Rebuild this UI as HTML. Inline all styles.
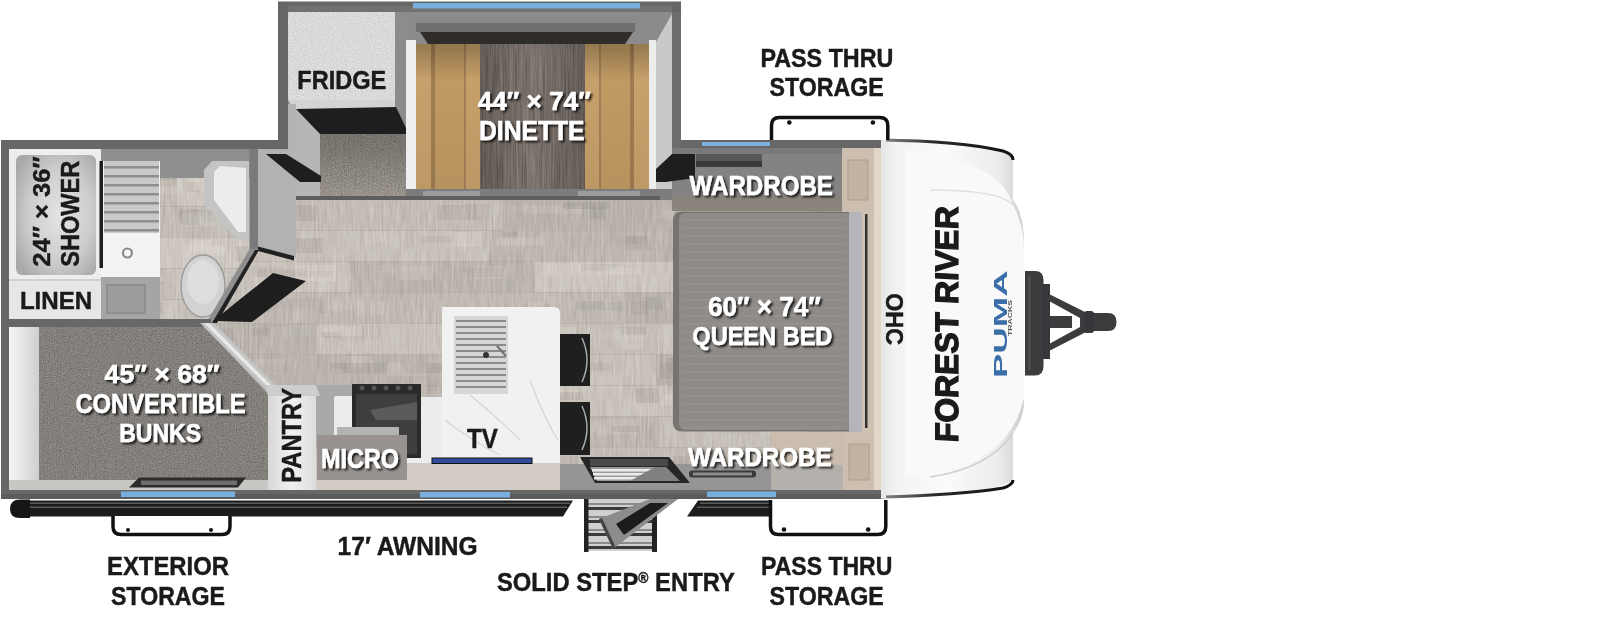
<!DOCTYPE html>
<html><head><meta charset="utf-8"><style>
html,body{margin:0;padding:0;background:#fff;width:1600px;height:617px;overflow:hidden}
svg{display:block}
text{font-family:"Liberation Sans",sans-serif;font-weight:bold}
.w text{fill:#fff;stroke:#fff;stroke-width:0.5}
.k text{fill:#1a1a1a;stroke:#1a1a1a;stroke-width:0.45}
</style></head><body>
<svg width="1600" height="617" viewBox="0 0 1600 617">
<defs>
<filter id="sh" x="-10%" y="-30%" width="130%" height="170%">
<feGaussianBlur in="SourceAlpha" stdDeviation="1.3"/><feOffset dx="1.6" dy="2" result="b"/>
<feFlood flood-color="#000" flood-opacity="0.8"/><feComposite in2="b" operator="in"/>
<feMerge><feMergeNode/><feMergeNode in="SourceGraphic"/></feMerge>
</filter>
<filter id="noise" x="0" y="0" width="100%" height="100%">
<feTurbulence type="fractalNoise" baseFrequency="0.85" numOctaves="2" seed="3" result="n"/>
<feColorMatrix in="n" type="matrix" values="0.33 0.33 0.33 0 0  0.33 0.33 0.33 0 0  0.33 0.33 0.33 0 0  0 0 0 0 1" result="g"/>
<feComposite in="g" in2="SourceGraphic" operator="in" result="m"/>
<feBlend in="m" in2="SourceGraphic" mode="overlay"/>
</filter>
<filter id="grain" x="0" y="0" width="100%" height="100%">
<feTurbulence type="fractalNoise" baseFrequency="0.6 0.02" numOctaves="2" seed="5" result="n"/>
<feColorMatrix in="n" type="matrix" values="0.33 0.33 0.33 0 0  0.33 0.33 0.33 0 0  0.33 0.33 0.33 0 0  0 0 0 0 1" result="g"/>
<feComposite in="g" in2="SourceGraphic" operator="in" result="m"/>
<feBlend in="m" in2="SourceGraphic" mode="overlay"/>
</filter>
<filter id="fgrain" x="0" y="0" width="100%" height="100%">
<feTurbulence type="fractalNoise" baseFrequency="0.5 0.04" numOctaves="2" seed="11" result="n"/>
<feColorMatrix in="n" type="matrix" values="0.13 0.13 0.13 0 0.305  0.13 0.13 0.13 0 0.305  0.13 0.13 0.13 0 0.305  0 0 0 0 1" result="g"/>
<feComposite in="g" in2="SourceGraphic" operator="in" result="m"/>
<feBlend in="m" in2="SourceGraphic" mode="overlay"/>
</filter>
<linearGradient id="carpg" x1="0" y1="0" x2="0" y2="1">
<stop offset="0" stop-color="#6f6964"/><stop offset="0.5" stop-color="#7d7772"/><stop offset="1" stop-color="#9a948e"/>
</linearGradient>
<linearGradient id="capg" x1="0" y1="0" x2="1" y2="0">
<stop offset="0" stop-color="#e6e6e6"/><stop offset="0.1" stop-color="#f2f2f2"/><stop offset="0.45" stop-color="#fbfbfb"/><stop offset="0.82" stop-color="#ececec"/><stop offset="1" stop-color="#cccccc"/>
</linearGradient>
<linearGradient id="capline" x1="0" y1="0" x2="1" y2="0">
<stop offset="0" stop-color="#8a8a8a"/><stop offset="0.4" stop-color="#2a2a2a"/><stop offset="1" stop-color="#111"/>
</linearGradient>
<radialGradient id="showg" cx="0.55" cy="0.5" r="0.65">
<stop offset="0" stop-color="#e4e4e4"/><stop offset="0.6" stop-color="#cdcdcd"/><stop offset="1" stop-color="#a9a9a9"/>
</radialGradient>
<linearGradient id="benchg" x1="0" y1="0" x2="0" y2="1">
<stop offset="0" stop-color="#000" stop-opacity="0.25"/><stop offset="0.25" stop-color="#000" stop-opacity="0"/><stop offset="1" stop-color="#000" stop-opacity="0.05"/>
</linearGradient>
<linearGradient id="tableg" x1="0" y1="0" x2="1" y2="0">
<stop offset="0" stop-color="#635c57"/><stop offset="0.5" stop-color="#7c736d"/><stop offset="1" stop-color="#635c57"/>
</linearGradient>
<linearGradient id="stripg" x1="0" y1="0" x2="1" y2="0">
<stop offset="0" stop-color="#f6f6f6"/><stop offset="1" stop-color="#cfcfcf"/>
</linearGradient>
<linearGradient id="pantg" x1="0" y1="0" x2="1" y2="0">
<stop offset="0" stop-color="#d8d8d8"/><stop offset="0.5" stop-color="#f1f1f1"/><stop offset="1" stop-color="#dcdcdc"/>
</linearGradient>
</defs>
<!-- ===== slide-out box ===== -->
<rect x="278" y="1.5" width="403" height="160" fill="#666"/>
<rect x="288" y="6" width="384" height="6" fill="#717171"/>
<rect x="288" y="12" width="384" height="189" fill="#8b8b8b"/>
<rect x="413" y="3" width="227" height="5.5" fill="#78afdf"/>

<!-- ===== main body ===== -->
<rect x="1" y="140" width="880" height="359" fill="#676767"/>
<rect x="9" y="149" width="872" height="341" fill="#c6c0b9"/>
<rect x="288" y="140" width="384" height="61" fill="#8b8b8b"/>
<rect x="702" y="142" width="68" height="4" fill="#78afdf"/>
<rect x="1" y="494" width="880" height="5" fill="#5c5c5c"/>
<rect x="121" y="491.5" width="114" height="5.5" fill="#78afdf"/>
<rect x="420" y="492" width="90" height="5.5" fill="#78afdf"/>
<rect x="707" y="491.5" width="69" height="5.5" fill="#78afdf"/>

<!-- floor planks -->
<g filter="url(#fgrain)">
<rect x="150" y="199" width="137" height="31" fill="rgb(200, 194, 187)"/>
<rect x="197" y="208" width="23" height="10" fill="rgb(187, 181, 174)" opacity="0.45"/>
<rect x="179" y="207" width="50" height="16" fill="rgb(215, 209, 202)" opacity="0.45"/>
<rect x="179" y="201" width="24" height="16" fill="rgb(216, 210, 203)" opacity="0.45"/>
<rect x="170" y="201" width="19" height="10" fill="rgb(208, 202, 195)" opacity="0.45"/>
<rect x="226" y="208" width="45" height="8" fill="rgb(214, 208, 201)" opacity="0.45"/>
<rect x="150" y="199" width="137" height="1" fill="#b3aba1" opacity="0.6"/>
<rect x="287" y="199" width="216" height="31" fill="rgb(194, 188, 181)"/>
<rect x="296" y="205" width="21" height="16" fill="rgb(170, 164, 157)" opacity="0.45"/>
<rect x="447" y="206" width="42" height="14" fill="rgb(208, 202, 195)" opacity="0.45"/>
<rect x="436" y="205" width="41" height="15" fill="rgb(173, 167, 160)" opacity="0.45"/>
<rect x="465" y="204" width="25" height="16" fill="rgb(176, 170, 163)" opacity="0.45"/>
<rect x="359" y="208" width="32" height="7" fill="rgb(203, 197, 190)" opacity="0.45"/>
<rect x="287" y="199" width="216" height="1" fill="#b3aba1" opacity="0.6"/>
<rect x="503" y="199" width="182" height="31" fill="rgb(185, 179, 172)"/>
<rect x="541" y="207" width="41" height="7" fill="rgb(197, 191, 184)" opacity="0.45"/>
<rect x="657" y="209" width="17" height="10" fill="rgb(199, 193, 186)" opacity="0.45"/>
<rect x="563" y="202" width="47" height="7" fill="rgb(158, 152, 145)" opacity="0.45"/>
<rect x="511" y="205" width="49" height="8" fill="rgb(199, 193, 186)" opacity="0.45"/>
<rect x="589" y="207" width="17" height="12" fill="rgb(167, 161, 154)" opacity="0.45"/>
<rect x="503" y="199" width="182" height="1" fill="#b3aba1" opacity="0.6"/>
<rect x="685" y="199" width="189" height="31" fill="rgb(199, 193, 186)"/>
<rect x="828" y="207" width="39" height="16" fill="rgb(215, 209, 202)" opacity="0.45"/>
<rect x="762" y="209" width="30" height="11" fill="rgb(211, 205, 198)" opacity="0.45"/>
<rect x="791" y="207" width="15" height="15" fill="rgb(189, 183, 176)" opacity="0.45"/>
<rect x="700" y="206" width="23" height="15" fill="rgb(214, 208, 201)" opacity="0.45"/>
<rect x="810" y="206" width="32" height="10" fill="rgb(171, 165, 158)" opacity="0.45"/>
<rect x="685" y="199" width="189" height="1" fill="#b3aba1" opacity="0.6"/>
<rect x="874" y="199" width="9" height="31" fill="rgb(197, 191, 184)"/>
<rect x="874" y="206" width="9" height="11" fill="rgb(174, 168, 161)" opacity="0.45"/>
<rect x="874" y="203" width="9" height="10" fill="rgb(181, 175, 168)" opacity="0.45"/>
<rect x="874" y="203" width="9" height="16" fill="rgb(208, 202, 195)" opacity="0.45"/>
<rect x="874" y="204" width="9" height="13" fill="rgb(210, 204, 197)" opacity="0.45"/>
<rect x="874" y="205" width="9" height="9" fill="rgb(208, 202, 195)" opacity="0.45"/>
<rect x="874" y="199" width="9" height="1" fill="#b3aba1" opacity="0.6"/>
<rect x="150" y="230" width="132" height="31" fill="rgb(199, 193, 186)"/>
<rect x="190" y="237" width="27" height="16" fill="rgb(209, 203, 196)" opacity="0.45"/>
<rect x="253" y="236" width="20" height="14" fill="rgb(209, 203, 196)" opacity="0.45"/>
<rect x="209" y="238" width="32" height="15" fill="rgb(213, 207, 200)" opacity="0.45"/>
<rect x="154" y="232" width="41" height="13" fill="rgb(184, 178, 171)" opacity="0.45"/>
<rect x="205" y="239" width="47" height="16" fill="rgb(188, 182, 175)" opacity="0.45"/>
<rect x="150" y="230" width="132" height="1" fill="#b3aba1" opacity="0.6"/>
<rect x="282" y="230" width="207" height="31" fill="rgb(199, 193, 186)"/>
<rect x="421" y="236" width="33" height="7" fill="rgb(181, 175, 168)" opacity="0.45"/>
<rect x="293" y="238" width="30" height="15" fill="rgb(172, 166, 159)" opacity="0.45"/>
<rect x="285" y="240" width="18" height="10" fill="rgb(186, 180, 173)" opacity="0.45"/>
<rect x="451" y="232" width="30" height="15" fill="rgb(215, 209, 202)" opacity="0.45"/>
<rect x="369" y="232" width="22" height="11" fill="rgb(211, 205, 198)" opacity="0.45"/>
<rect x="282" y="230" width="207" height="1" fill="#b3aba1" opacity="0.6"/>
<rect x="489" y="230" width="174" height="31" fill="rgb(189, 183, 176)"/>
<rect x="625" y="236" width="22" height="8" fill="rgb(164, 158, 151)" opacity="0.45"/>
<rect x="613" y="236" width="15" height="9" fill="rgb(179, 173, 166)" opacity="0.45"/>
<rect x="623" y="239" width="32" height="11" fill="rgb(177, 171, 164)" opacity="0.45"/>
<rect x="503" y="232" width="15" height="7" fill="rgb(165, 159, 152)" opacity="0.45"/>
<rect x="497" y="237" width="45" height="8" fill="rgb(205, 199, 192)" opacity="0.45"/>
<rect x="489" y="230" width="174" height="1" fill="#b3aba1" opacity="0.6"/>
<rect x="663" y="230" width="180" height="31" fill="rgb(185, 179, 172)"/>
<rect x="761" y="236" width="37" height="9" fill="rgb(197, 191, 184)" opacity="0.45"/>
<rect x="772" y="238" width="36" height="7" fill="rgb(160, 154, 147)" opacity="0.45"/>
<rect x="673" y="232" width="26" height="15" fill="rgb(200, 194, 187)" opacity="0.45"/>
<rect x="676" y="238" width="42" height="12" fill="rgb(200, 194, 187)" opacity="0.45"/>
<rect x="667" y="233" width="44" height="12" fill="rgb(196, 190, 183)" opacity="0.45"/>
<rect x="663" y="230" width="180" height="1" fill="#b3aba1" opacity="0.6"/>
<rect x="843" y="230" width="40" height="31" fill="rgb(196, 190, 183)"/>
<rect x="843" y="233" width="23" height="13" fill="rgb(209, 203, 196)" opacity="0.45"/>
<rect x="859" y="240" width="22" height="7" fill="rgb(205, 199, 192)" opacity="0.45"/>
<rect x="858" y="232" width="15" height="14" fill="rgb(207, 201, 194)" opacity="0.45"/>
<rect x="861" y="232" width="20" height="11" fill="rgb(171, 165, 158)" opacity="0.45"/>
<rect x="843" y="236" width="22" height="7" fill="rgb(211, 205, 198)" opacity="0.45"/>
<rect x="843" y="230" width="40" height="1" fill="#b3aba1" opacity="0.6"/>
<rect x="150" y="261" width="200" height="31" fill="rgb(201, 195, 188)"/>
<rect x="285" y="271" width="47" height="6" fill="rgb(180, 174, 167)" opacity="0.45"/>
<rect x="233" y="266" width="50" height="8" fill="rgb(191, 185, 178)" opacity="0.45"/>
<rect x="266" y="269" width="30" height="11" fill="rgb(213, 207, 200)" opacity="0.45"/>
<rect x="257" y="269" width="50" height="8" fill="rgb(175, 169, 162)" opacity="0.45"/>
<rect x="295" y="265" width="41" height="16" fill="rgb(217, 211, 204)" opacity="0.45"/>
<rect x="150" y="261" width="200" height="1" fill="#b3aba1" opacity="0.6"/>
<rect x="350" y="261" width="185" height="31" fill="rgb(187, 181, 174)"/>
<rect x="374" y="265" width="25" height="8" fill="rgb(202, 196, 189)" opacity="0.45"/>
<rect x="400" y="266" width="32" height="14" fill="rgb(203, 197, 190)" opacity="0.45"/>
<rect x="455" y="267" width="33" height="6" fill="rgb(177, 171, 164)" opacity="0.45"/>
<rect x="472" y="268" width="32" height="9" fill="rgb(171, 165, 158)" opacity="0.45"/>
<rect x="473" y="266" width="35" height="13" fill="rgb(201, 195, 188)" opacity="0.45"/>
<rect x="350" y="261" width="185" height="1" fill="#b3aba1" opacity="0.6"/>
<rect x="535" y="261" width="197" height="31" fill="rgb(203, 197, 190)"/>
<rect x="542" y="263" width="50" height="13" fill="rgb(212, 206, 199)" opacity="0.45"/>
<rect x="595" y="266" width="29" height="9" fill="rgb(214, 208, 201)" opacity="0.45"/>
<rect x="570" y="265" width="31" height="6" fill="rgb(211, 205, 198)" opacity="0.45"/>
<rect x="581" y="264" width="35" height="7" fill="rgb(188, 182, 175)" opacity="0.45"/>
<rect x="609" y="268" width="31" height="6" fill="rgb(216, 210, 203)" opacity="0.45"/>
<rect x="535" y="261" width="197" height="1" fill="#b3aba1" opacity="0.6"/>
<rect x="732" y="261" width="151" height="31" fill="rgb(193, 187, 180)"/>
<rect x="787" y="266" width="36" height="16" fill="rgb(177, 171, 164)" opacity="0.45"/>
<rect x="782" y="264" width="46" height="10" fill="rgb(209, 203, 196)" opacity="0.45"/>
<rect x="842" y="264" width="19" height="14" fill="rgb(208, 202, 195)" opacity="0.45"/>
<rect x="818" y="267" width="38" height="7" fill="rgb(208, 202, 195)" opacity="0.45"/>
<rect x="818" y="270" width="36" height="14" fill="rgb(183, 177, 170)" opacity="0.45"/>
<rect x="732" y="261" width="151" height="1" fill="#b3aba1" opacity="0.6"/>
<rect x="150" y="292" width="73" height="31" fill="rgb(205, 199, 192)"/>
<rect x="186" y="299" width="33" height="16" fill="rgb(182, 176, 169)" opacity="0.45"/>
<rect x="153" y="299" width="44" height="16" fill="rgb(180, 174, 167)" opacity="0.45"/>
<rect x="169" y="298" width="41" height="8" fill="rgb(220, 214, 207)" opacity="0.45"/>
<rect x="156" y="299" width="19" height="7" fill="rgb(221, 215, 208)" opacity="0.45"/>
<rect x="167" y="294" width="32" height="13" fill="rgb(189, 183, 176)" opacity="0.45"/>
<rect x="150" y="292" width="73" height="1" fill="#b3aba1" opacity="0.6"/>
<rect x="223" y="292" width="192" height="31" fill="rgb(191, 185, 178)"/>
<rect x="354" y="301" width="30" height="14" fill="rgb(204, 198, 191)" opacity="0.45"/>
<rect x="313" y="298" width="19" height="15" fill="rgb(178, 172, 165)" opacity="0.45"/>
<rect x="251" y="297" width="21" height="15" fill="rgb(181, 175, 168)" opacity="0.45"/>
<rect x="323" y="297" width="41" height="14" fill="rgb(201, 195, 188)" opacity="0.45"/>
<rect x="266" y="298" width="48" height="11" fill="rgb(181, 175, 168)" opacity="0.45"/>
<rect x="223" y="292" width="192" height="1" fill="#b3aba1" opacity="0.6"/>
<rect x="415" y="292" width="210" height="31" fill="rgb(192, 186, 179)"/>
<rect x="528" y="302" width="16" height="15" fill="rgb(206, 200, 193)" opacity="0.45"/>
<rect x="577" y="301" width="34" height="6" fill="rgb(208, 202, 195)" opacity="0.45"/>
<rect x="577" y="301" width="27" height="8" fill="rgb(164, 158, 151)" opacity="0.45"/>
<rect x="575" y="302" width="48" height="9" fill="rgb(178, 172, 165)" opacity="0.45"/>
<rect x="543" y="296" width="17" height="8" fill="rgb(201, 195, 188)" opacity="0.45"/>
<rect x="415" y="292" width="210" height="1" fill="#b3aba1" opacity="0.6"/>
<rect x="625" y="292" width="189" height="31" fill="rgb(185, 179, 172)"/>
<rect x="631" y="301" width="18" height="14" fill="rgb(168, 162, 155)" opacity="0.45"/>
<rect x="711" y="296" width="16" height="7" fill="rgb(198, 192, 185)" opacity="0.45"/>
<rect x="645" y="297" width="17" height="12" fill="rgb(167, 161, 154)" opacity="0.45"/>
<rect x="749" y="300" width="29" height="7" fill="rgb(167, 161, 154)" opacity="0.45"/>
<rect x="666" y="295" width="27" height="14" fill="rgb(200, 194, 187)" opacity="0.45"/>
<rect x="625" y="292" width="189" height="1" fill="#b3aba1" opacity="0.6"/>
<rect x="814" y="292" width="69" height="31" fill="rgb(196, 190, 183)"/>
<rect x="855" y="301" width="28" height="13" fill="rgb(183, 177, 170)" opacity="0.45"/>
<rect x="828" y="298" width="40" height="11" fill="rgb(173, 167, 160)" opacity="0.45"/>
<rect x="842" y="297" width="38" height="6" fill="rgb(209, 203, 196)" opacity="0.45"/>
<rect x="830" y="302" width="28" height="9" fill="rgb(206, 200, 193)" opacity="0.45"/>
<rect x="827" y="302" width="25" height="8" fill="rgb(206, 200, 193)" opacity="0.45"/>
<rect x="814" y="292" width="69" height="1" fill="#b3aba1" opacity="0.6"/>
<rect x="150" y="323" width="167" height="31" fill="rgb(186, 180, 173)"/>
<rect x="263" y="325" width="25" height="12" fill="rgb(173, 167, 160)" opacity="0.45"/>
<rect x="190" y="328" width="43" height="12" fill="rgb(171, 165, 158)" opacity="0.45"/>
<rect x="251" y="328" width="17" height="7" fill="rgb(173, 167, 160)" opacity="0.45"/>
<rect x="271" y="326" width="39" height="11" fill="rgb(196, 190, 183)" opacity="0.45"/>
<rect x="163" y="329" width="22" height="13" fill="rgb(198, 192, 185)" opacity="0.45"/>
<rect x="150" y="323" width="167" height="1" fill="#b3aba1" opacity="0.6"/>
<rect x="317" y="323" width="175" height="31" fill="rgb(200, 194, 187)"/>
<rect x="324" y="326" width="32" height="6" fill="rgb(213, 207, 200)" opacity="0.45"/>
<rect x="339" y="325" width="42" height="16" fill="rgb(190, 184, 177)" opacity="0.45"/>
<rect x="321" y="332" width="20" height="6" fill="rgb(177, 171, 164)" opacity="0.45"/>
<rect x="447" y="330" width="27" height="13" fill="rgb(211, 205, 198)" opacity="0.45"/>
<rect x="325" y="326" width="37" height="10" fill="rgb(212, 206, 199)" opacity="0.45"/>
<rect x="317" y="323" width="175" height="1" fill="#b3aba1" opacity="0.6"/>
<rect x="492" y="323" width="171" height="31" fill="rgb(196, 190, 183)"/>
<rect x="621" y="333" width="22" height="16" fill="rgb(212, 206, 199)" opacity="0.45"/>
<rect x="536" y="327" width="40" height="11" fill="rgb(212, 206, 199)" opacity="0.45"/>
<rect x="604" y="330" width="41" height="10" fill="rgb(211, 205, 198)" opacity="0.45"/>
<rect x="621" y="327" width="25" height="8" fill="rgb(180, 174, 167)" opacity="0.45"/>
<rect x="611" y="328" width="16" height="15" fill="rgb(205, 199, 192)" opacity="0.45"/>
<rect x="492" y="323" width="171" height="1" fill="#b3aba1" opacity="0.6"/>
<rect x="663" y="323" width="213" height="31" fill="rgb(203, 197, 190)"/>
<rect x="819" y="330" width="18" height="11" fill="rgb(218, 212, 205)" opacity="0.45"/>
<rect x="681" y="330" width="15" height="15" fill="rgb(181, 175, 168)" opacity="0.45"/>
<rect x="691" y="328" width="34" height="6" fill="rgb(189, 183, 176)" opacity="0.45"/>
<rect x="828" y="328" width="24" height="10" fill="rgb(179, 173, 166)" opacity="0.45"/>
<rect x="719" y="333" width="28" height="15" fill="rgb(219, 213, 206)" opacity="0.45"/>
<rect x="663" y="323" width="213" height="1" fill="#b3aba1" opacity="0.6"/>
<rect x="876" y="323" width="7" height="31" fill="rgb(200, 194, 187)"/>
<rect x="876" y="326" width="7" height="15" fill="rgb(177, 171, 164)" opacity="0.45"/>
<rect x="876" y="326" width="7" height="13" fill="rgb(178, 172, 165)" opacity="0.45"/>
<rect x="876" y="331" width="7" height="15" fill="rgb(215, 209, 202)" opacity="0.45"/>
<rect x="876" y="328" width="7" height="7" fill="rgb(215, 209, 202)" opacity="0.45"/>
<rect x="876" y="330" width="7" height="11" fill="rgb(186, 180, 173)" opacity="0.45"/>
<rect x="876" y="323" width="7" height="1" fill="#b3aba1" opacity="0.6"/>
<rect x="150" y="354" width="142" height="31" fill="rgb(185, 179, 172)"/>
<rect x="237" y="364" width="50" height="9" fill="rgb(168, 162, 155)" opacity="0.45"/>
<rect x="194" y="362" width="30" height="13" fill="rgb(158, 152, 145)" opacity="0.45"/>
<rect x="182" y="359" width="20" height="9" fill="rgb(163, 157, 150)" opacity="0.45"/>
<rect x="241" y="359" width="44" height="15" fill="rgb(199, 193, 186)" opacity="0.45"/>
<rect x="211" y="360" width="41" height="6" fill="rgb(170, 164, 157)" opacity="0.45"/>
<rect x="150" y="354" width="142" height="1" fill="#b3aba1" opacity="0.6"/>
<rect x="292" y="354" width="171" height="31" fill="rgb(186, 180, 173)"/>
<rect x="330" y="363" width="16" height="6" fill="rgb(167, 161, 154)" opacity="0.45"/>
<rect x="345" y="356" width="27" height="11" fill="rgb(201, 195, 188)" opacity="0.45"/>
<rect x="342" y="363" width="44" height="10" fill="rgb(167, 161, 154)" opacity="0.45"/>
<rect x="405" y="363" width="41" height="10" fill="rgb(160, 154, 147)" opacity="0.45"/>
<rect x="387" y="363" width="39" height="13" fill="rgb(200, 194, 187)" opacity="0.45"/>
<rect x="292" y="354" width="171" height="1" fill="#b3aba1" opacity="0.6"/>
<rect x="463" y="354" width="193" height="31" fill="rgb(200, 194, 187)"/>
<rect x="555" y="363" width="29" height="11" fill="rgb(181, 175, 168)" opacity="0.45"/>
<rect x="539" y="356" width="37" height="8" fill="rgb(179, 173, 166)" opacity="0.45"/>
<rect x="501" y="356" width="48" height="6" fill="rgb(189, 183, 176)" opacity="0.45"/>
<rect x="582" y="363" width="28" height="8" fill="rgb(183, 177, 170)" opacity="0.45"/>
<rect x="466" y="356" width="30" height="15" fill="rgb(214, 208, 201)" opacity="0.45"/>
<rect x="463" y="354" width="193" height="1" fill="#b3aba1" opacity="0.6"/>
<rect x="656" y="354" width="194" height="31" fill="rgb(186, 180, 173)"/>
<rect x="735" y="362" width="43" height="10" fill="rgb(197, 191, 184)" opacity="0.45"/>
<rect x="667" y="358" width="36" height="15" fill="rgb(158, 152, 145)" opacity="0.45"/>
<rect x="690" y="364" width="30" height="8" fill="rgb(202, 196, 189)" opacity="0.45"/>
<rect x="660" y="363" width="32" height="16" fill="rgb(163, 157, 150)" opacity="0.45"/>
<rect x="773" y="361" width="18" height="14" fill="rgb(202, 196, 189)" opacity="0.45"/>
<rect x="656" y="354" width="194" height="1" fill="#b3aba1" opacity="0.6"/>
<rect x="850" y="354" width="33" height="31" fill="rgb(188, 182, 175)"/>
<rect x="850" y="362" width="33" height="11" fill="rgb(162, 156, 149)" opacity="0.45"/>
<rect x="850" y="360" width="33" height="14" fill="rgb(200, 194, 187)" opacity="0.45"/>
<rect x="859" y="362" width="24" height="13" fill="rgb(170, 164, 157)" opacity="0.45"/>
<rect x="853" y="361" width="29" height="15" fill="rgb(178, 172, 165)" opacity="0.45"/>
<rect x="850" y="360" width="33" height="7" fill="rgb(198, 192, 185)" opacity="0.45"/>
<rect x="850" y="354" width="33" height="1" fill="#b3aba1" opacity="0.6"/>
<rect x="150" y="385" width="91" height="31" fill="rgb(185, 179, 172)"/>
<rect x="152" y="390" width="38" height="10" fill="rgb(200, 194, 187)" opacity="0.45"/>
<rect x="161" y="387" width="37" height="10" fill="rgb(199, 193, 186)" opacity="0.45"/>
<rect x="154" y="395" width="28" height="10" fill="rgb(198, 192, 185)" opacity="0.45"/>
<rect x="166" y="388" width="17" height="13" fill="rgb(197, 191, 184)" opacity="0.45"/>
<rect x="211" y="388" width="29" height="16" fill="rgb(163, 157, 150)" opacity="0.45"/>
<rect x="150" y="385" width="91" height="1" fill="#b3aba1" opacity="0.6"/>
<rect x="241" y="385" width="213" height="31" fill="rgb(183, 177, 170)"/>
<rect x="418" y="394" width="33" height="13" fill="rgb(197, 191, 184)" opacity="0.45"/>
<rect x="315" y="389" width="32" height="9" fill="rgb(172, 166, 159)" opacity="0.45"/>
<rect x="284" y="394" width="46" height="16" fill="rgb(159, 153, 146)" opacity="0.45"/>
<rect x="406" y="387" width="40" height="8" fill="rgb(193, 187, 180)" opacity="0.45"/>
<rect x="320" y="387" width="26" height="14" fill="rgb(161, 155, 148)" opacity="0.45"/>
<rect x="241" y="385" width="213" height="1" fill="#b3aba1" opacity="0.6"/>
<rect x="454" y="385" width="169" height="31" fill="rgb(200, 194, 187)"/>
<rect x="551" y="389" width="28" height="6" fill="rgb(214, 208, 201)" opacity="0.45"/>
<rect x="480" y="391" width="32" height="8" fill="rgb(176, 170, 163)" opacity="0.45"/>
<rect x="544" y="392" width="39" height="8" fill="rgb(174, 168, 161)" opacity="0.45"/>
<rect x="485" y="388" width="45" height="11" fill="rgb(213, 207, 200)" opacity="0.45"/>
<rect x="456" y="393" width="45" height="13" fill="rgb(216, 210, 203)" opacity="0.45"/>
<rect x="454" y="385" width="169" height="1" fill="#b3aba1" opacity="0.6"/>
<rect x="623" y="385" width="194" height="31" fill="rgb(200, 194, 187)"/>
<rect x="736" y="393" width="34" height="9" fill="rgb(216, 210, 203)" opacity="0.45"/>
<rect x="668" y="391" width="33" height="9" fill="rgb(210, 204, 197)" opacity="0.45"/>
<rect x="636" y="388" width="23" height="15" fill="rgb(173, 167, 160)" opacity="0.45"/>
<rect x="663" y="395" width="15" height="10" fill="rgb(214, 208, 201)" opacity="0.45"/>
<rect x="741" y="389" width="20" height="15" fill="rgb(215, 209, 202)" opacity="0.45"/>
<rect x="623" y="385" width="194" height="1" fill="#b3aba1" opacity="0.6"/>
<rect x="817" y="385" width="66" height="31" fill="rgb(189, 183, 176)"/>
<rect x="846" y="392" width="35" height="15" fill="rgb(202, 196, 189)" opacity="0.45"/>
<rect x="844" y="391" width="37" height="8" fill="rgb(201, 195, 188)" opacity="0.45"/>
<rect x="855" y="390" width="22" height="10" fill="rgb(200, 194, 187)" opacity="0.45"/>
<rect x="825" y="392" width="42" height="14" fill="rgb(199, 193, 186)" opacity="0.45"/>
<rect x="856" y="387" width="26" height="7" fill="rgb(205, 199, 192)" opacity="0.45"/>
<rect x="817" y="385" width="66" height="1" fill="#b3aba1" opacity="0.6"/>
<rect x="150" y="416" width="81" height="31" fill="rgb(200, 194, 187)"/>
<rect x="153" y="421" width="33" height="7" fill="rgb(214, 208, 201)" opacity="0.45"/>
<rect x="182" y="419" width="38" height="12" fill="rgb(208, 202, 195)" opacity="0.45"/>
<rect x="185" y="423" width="39" height="14" fill="rgb(208, 202, 195)" opacity="0.45"/>
<rect x="175" y="425" width="38" height="8" fill="rgb(186, 180, 173)" opacity="0.45"/>
<rect x="164" y="418" width="35" height="8" fill="rgb(172, 166, 159)" opacity="0.45"/>
<rect x="150" y="416" width="81" height="1" fill="#b3aba1" opacity="0.6"/>
<rect x="231" y="416" width="216" height="31" fill="rgb(185, 179, 172)"/>
<rect x="313" y="418" width="28" height="6" fill="rgb(170, 164, 157)" opacity="0.45"/>
<rect x="311" y="421" width="49" height="13" fill="rgb(200, 194, 187)" opacity="0.45"/>
<rect x="405" y="421" width="36" height="13" fill="rgb(194, 188, 181)" opacity="0.45"/>
<rect x="309" y="419" width="23" height="8" fill="rgb(166, 160, 153)" opacity="0.45"/>
<rect x="341" y="418" width="20" height="13" fill="rgb(198, 192, 185)" opacity="0.45"/>
<rect x="231" y="416" width="216" height="1" fill="#b3aba1" opacity="0.6"/>
<rect x="447" y="416" width="213" height="31" fill="rgb(188, 182, 175)"/>
<rect x="517" y="426" width="45" height="16" fill="rgb(164, 158, 151)" opacity="0.45"/>
<rect x="597" y="419" width="42" height="16" fill="rgb(202, 196, 189)" opacity="0.45"/>
<rect x="463" y="418" width="20" height="11" fill="rgb(174, 168, 161)" opacity="0.45"/>
<rect x="555" y="421" width="45" height="11" fill="rgb(201, 195, 188)" opacity="0.45"/>
<rect x="612" y="426" width="27" height="6" fill="rgb(172, 166, 159)" opacity="0.45"/>
<rect x="447" y="416" width="213" height="1" fill="#b3aba1" opacity="0.6"/>
<rect x="660" y="416" width="217" height="31" fill="rgb(199, 193, 186)"/>
<rect x="721" y="421" width="48" height="13" fill="rgb(189, 183, 176)" opacity="0.45"/>
<rect x="761" y="426" width="49" height="9" fill="rgb(212, 206, 199)" opacity="0.45"/>
<rect x="806" y="426" width="27" height="11" fill="rgb(180, 174, 167)" opacity="0.45"/>
<rect x="750" y="425" width="48" height="6" fill="rgb(181, 175, 168)" opacity="0.45"/>
<rect x="739" y="420" width="42" height="7" fill="rgb(177, 171, 164)" opacity="0.45"/>
<rect x="660" y="416" width="217" height="1" fill="#b3aba1" opacity="0.6"/>
<rect x="877" y="416" width="6" height="31" fill="rgb(197, 191, 184)"/>
<rect x="877" y="418" width="6" height="11" fill="rgb(175, 169, 162)" opacity="0.45"/>
<rect x="877" y="424" width="6" height="11" fill="rgb(181, 175, 168)" opacity="0.45"/>
<rect x="877" y="423" width="6" height="10" fill="rgb(209, 203, 196)" opacity="0.45"/>
<rect x="877" y="422" width="6" height="13" fill="rgb(172, 166, 159)" opacity="0.45"/>
<rect x="877" y="421" width="6" height="16" fill="rgb(176, 170, 163)" opacity="0.45"/>
<rect x="877" y="416" width="6" height="1" fill="#b3aba1" opacity="0.6"/>
<rect x="150" y="447" width="105" height="31" fill="rgb(190, 184, 177)"/>
<rect x="217" y="451" width="26" height="16" fill="rgb(206, 200, 193)" opacity="0.45"/>
<rect x="206" y="457" width="34" height="13" fill="rgb(173, 167, 160)" opacity="0.45"/>
<rect x="151" y="457" width="46" height="12" fill="rgb(200, 194, 187)" opacity="0.45"/>
<rect x="164" y="454" width="46" height="12" fill="rgb(206, 200, 193)" opacity="0.45"/>
<rect x="198" y="454" width="45" height="8" fill="rgb(199, 193, 186)" opacity="0.45"/>
<rect x="150" y="447" width="105" height="1" fill="#b3aba1" opacity="0.6"/>
<rect x="255" y="447" width="197" height="31" fill="rgb(193, 187, 180)"/>
<rect x="344" y="456" width="21" height="16" fill="rgb(203, 197, 190)" opacity="0.45"/>
<rect x="293" y="449" width="49" height="15" fill="rgb(206, 200, 193)" opacity="0.45"/>
<rect x="306" y="453" width="37" height="14" fill="rgb(209, 203, 196)" opacity="0.45"/>
<rect x="360" y="457" width="35" height="11" fill="rgb(201, 195, 188)" opacity="0.45"/>
<rect x="377" y="453" width="42" height="9" fill="rgb(176, 170, 163)" opacity="0.45"/>
<rect x="255" y="447" width="197" height="1" fill="#b3aba1" opacity="0.6"/>
<rect x="452" y="447" width="196" height="31" fill="rgb(195, 189, 182)"/>
<rect x="534" y="456" width="22" height="8" fill="rgb(205, 199, 192)" opacity="0.45"/>
<rect x="552" y="457" width="49" height="15" fill="rgb(206, 200, 193)" opacity="0.45"/>
<rect x="479" y="451" width="38" height="14" fill="rgb(168, 162, 155)" opacity="0.45"/>
<rect x="482" y="455" width="25" height="14" fill="rgb(170, 164, 157)" opacity="0.45"/>
<rect x="532" y="456" width="47" height="10" fill="rgb(179, 173, 166)" opacity="0.45"/>
<rect x="452" y="447" width="196" height="1" fill="#b3aba1" opacity="0.6"/>
<rect x="648" y="447" width="203" height="31" fill="rgb(193, 187, 180)"/>
<rect x="714" y="456" width="29" height="11" fill="rgb(168, 162, 155)" opacity="0.45"/>
<rect x="685" y="453" width="42" height="15" fill="rgb(173, 167, 160)" opacity="0.45"/>
<rect x="699" y="454" width="47" height="11" fill="rgb(204, 198, 191)" opacity="0.45"/>
<rect x="673" y="456" width="21" height="11" fill="rgb(169, 163, 156)" opacity="0.45"/>
<rect x="731" y="456" width="22" height="10" fill="rgb(169, 163, 156)" opacity="0.45"/>
<rect x="648" y="447" width="203" height="1" fill="#b3aba1" opacity="0.6"/>
<rect x="851" y="447" width="32" height="31" fill="rgb(187, 181, 174)"/>
<rect x="851" y="455" width="32" height="10" fill="rgb(203, 197, 190)" opacity="0.45"/>
<rect x="851" y="449" width="32" height="6" fill="rgb(177, 171, 164)" opacity="0.45"/>
<rect x="857" y="457" width="25" height="9" fill="rgb(159, 153, 146)" opacity="0.45"/>
<rect x="851" y="452" width="32" height="7" fill="rgb(203, 197, 190)" opacity="0.45"/>
<rect x="854" y="453" width="25" height="8" fill="rgb(202, 196, 189)" opacity="0.45"/>
<rect x="851" y="447" width="32" height="1" fill="#b3aba1" opacity="0.6"/>
<rect x="150" y="478" width="165" height="12" fill="rgb(193, 187, 180)"/>
<rect x="216" y="482" width="25" height="7" fill="rgb(169, 163, 156)" opacity="0.45"/>
<rect x="171" y="488" width="15" height="2" fill="rgb(207, 201, 194)" opacity="0.45"/>
<rect x="183" y="484" width="43" height="6" fill="rgb(170, 164, 157)" opacity="0.45"/>
<rect x="171" y="488" width="41" height="2" fill="rgb(201, 195, 188)" opacity="0.45"/>
<rect x="176" y="480" width="38" height="10" fill="rgb(204, 198, 191)" opacity="0.45"/>
<rect x="150" y="478" width="165" height="1" fill="#b3aba1" opacity="0.6"/>
<rect x="315" y="478" width="188" height="12" fill="rgb(204, 198, 191)"/>
<rect x="372" y="480" width="35" height="10" fill="rgb(190, 184, 177)" opacity="0.45"/>
<rect x="373" y="481" width="28" height="9" fill="rgb(218, 212, 205)" opacity="0.45"/>
<rect x="461" y="484" width="35" height="6" fill="rgb(179, 173, 166)" opacity="0.45"/>
<rect x="418" y="483" width="16" height="7" fill="rgb(176, 170, 163)" opacity="0.45"/>
<rect x="382" y="484" width="47" height="6" fill="rgb(215, 209, 202)" opacity="0.45"/>
<rect x="315" y="478" width="188" height="1" fill="#b3aba1" opacity="0.6"/>
<rect x="503" y="478" width="171" height="12" fill="rgb(197, 191, 184)"/>
<rect x="570" y="487" width="47" height="3" fill="rgb(172, 166, 159)" opacity="0.45"/>
<rect x="581" y="485" width="23" height="5" fill="rgb(185, 179, 172)" opacity="0.45"/>
<rect x="534" y="487" width="33" height="3" fill="rgb(171, 165, 158)" opacity="0.45"/>
<rect x="508" y="480" width="41" height="6" fill="rgb(205, 199, 192)" opacity="0.45"/>
<rect x="614" y="485" width="47" height="5" fill="rgb(184, 178, 171)" opacity="0.45"/>
<rect x="503" y="478" width="171" height="1" fill="#b3aba1" opacity="0.6"/>
<rect x="674" y="478" width="178" height="12" fill="rgb(192, 186, 179)"/>
<rect x="799" y="484" width="45" height="6" fill="rgb(173, 167, 160)" opacity="0.45"/>
<rect x="777" y="483" width="20" height="7" fill="rgb(165, 159, 152)" opacity="0.45"/>
<rect x="774" y="482" width="25" height="7" fill="rgb(180, 174, 167)" opacity="0.45"/>
<rect x="805" y="481" width="34" height="9" fill="rgb(200, 194, 187)" opacity="0.45"/>
<rect x="695" y="486" width="46" height="4" fill="rgb(205, 199, 192)" opacity="0.45"/>
<rect x="674" y="478" width="178" height="1" fill="#b3aba1" opacity="0.6"/>
<rect x="852" y="478" width="31" height="12" fill="rgb(202, 196, 189)"/>
<rect x="862" y="487" width="16" height="3" fill="rgb(217, 211, 204)" opacity="0.45"/>
<rect x="854" y="486" width="28" height="4" fill="rgb(214, 208, 201)" opacity="0.45"/>
<rect x="854" y="486" width="27" height="4" fill="rgb(175, 169, 162)" opacity="0.45"/>
<rect x="852" y="488" width="31" height="2" fill="rgb(184, 178, 171)" opacity="0.45"/>
<rect x="852" y="486" width="31" height="4" fill="rgb(215, 209, 202)" opacity="0.45"/>
<rect x="852" y="478" width="31" height="1" fill="#b3aba1" opacity="0.6"/>
</g>
<g filter="url(#fgrain)">
<rect x="160" y="175" width="17" height="31" fill="rgb(194, 188, 181)"/>
<rect x="160" y="179" width="17" height="7" fill="rgb(180, 174, 167)" opacity="0.45"/>
<rect x="160" y="180" width="17" height="6" fill="rgb(173, 167, 160)" opacity="0.45"/>
<rect x="160" y="179" width="17" height="7" fill="rgb(204, 198, 191)" opacity="0.45"/>
<rect x="160" y="177" width="17" height="9" fill="rgb(170, 164, 157)" opacity="0.45"/>
<rect x="160" y="180" width="17" height="14" fill="rgb(206, 200, 193)" opacity="0.45"/>
<rect x="160" y="175" width="17" height="1" fill="#b3aba1" opacity="0.6"/>
<rect x="177" y="175" width="73" height="31" fill="rgb(204, 198, 191)"/>
<rect x="188" y="177" width="28" height="11" fill="rgb(218, 212, 205)" opacity="0.45"/>
<rect x="187" y="182" width="41" height="10" fill="rgb(180, 174, 167)" opacity="0.45"/>
<rect x="215" y="182" width="15" height="10" fill="rgb(213, 207, 200)" opacity="0.45"/>
<rect x="199" y="184" width="45" height="8" fill="rgb(214, 208, 201)" opacity="0.45"/>
<rect x="193" y="177" width="18" height="14" fill="rgb(217, 211, 204)" opacity="0.45"/>
<rect x="177" y="175" width="73" height="1" fill="#b3aba1" opacity="0.6"/>
<rect x="160" y="206" width="76" height="31" fill="rgb(195, 189, 182)"/>
<rect x="188" y="209" width="15" height="9" fill="rgb(168, 162, 155)" opacity="0.45"/>
<rect x="182" y="215" width="44" height="7" fill="rgb(208, 202, 195)" opacity="0.45"/>
<rect x="178" y="211" width="38" height="11" fill="rgb(168, 162, 155)" opacity="0.45"/>
<rect x="179" y="212" width="47" height="14" fill="rgb(205, 199, 192)" opacity="0.45"/>
<rect x="179" y="209" width="20" height="16" fill="rgb(177, 171, 164)" opacity="0.45"/>
<rect x="160" y="206" width="76" height="1" fill="#b3aba1" opacity="0.6"/>
<rect x="236" y="206" width="14" height="31" fill="rgb(205, 199, 192)"/>
<rect x="236" y="216" width="14" height="12" fill="rgb(182, 176, 169)" opacity="0.45"/>
<rect x="236" y="214" width="14" height="8" fill="rgb(217, 211, 204)" opacity="0.45"/>
<rect x="236" y="210" width="14" height="15" fill="rgb(192, 186, 179)" opacity="0.45"/>
<rect x="236" y="213" width="14" height="8" fill="rgb(215, 209, 202)" opacity="0.45"/>
<rect x="236" y="210" width="14" height="14" fill="rgb(215, 209, 202)" opacity="0.45"/>
<rect x="236" y="206" width="14" height="1" fill="#b3aba1" opacity="0.6"/>
<rect x="160" y="237" width="75" height="31" fill="rgb(205, 199, 192)"/>
<rect x="190" y="245" width="35" height="8" fill="rgb(217, 211, 204)" opacity="0.45"/>
<rect x="184" y="244" width="22" height="8" fill="rgb(215, 209, 202)" opacity="0.45"/>
<rect x="191" y="240" width="20" height="11" fill="rgb(221, 215, 208)" opacity="0.45"/>
<rect x="208" y="246" width="17" height="10" fill="rgb(218, 212, 205)" opacity="0.45"/>
<rect x="181" y="247" width="33" height="10" fill="rgb(213, 207, 200)" opacity="0.45"/>
<rect x="160" y="237" width="75" height="1" fill="#b3aba1" opacity="0.6"/>
<rect x="235" y="237" width="15" height="31" fill="rgb(204, 198, 191)"/>
<rect x="235" y="244" width="15" height="10" fill="rgb(220, 214, 207)" opacity="0.45"/>
<rect x="235" y="244" width="15" height="11" fill="rgb(214, 208, 201)" opacity="0.45"/>
<rect x="235" y="244" width="15" height="13" fill="rgb(192, 186, 179)" opacity="0.45"/>
<rect x="235" y="243" width="15" height="15" fill="rgb(214, 208, 201)" opacity="0.45"/>
<rect x="235" y="246" width="15" height="15" fill="rgb(176, 170, 163)" opacity="0.45"/>
<rect x="235" y="237" width="15" height="1" fill="#b3aba1" opacity="0.6"/>
<rect x="160" y="268" width="5" height="31" fill="rgb(190, 184, 177)"/>
<rect x="160" y="270" width="5" height="8" fill="rgb(177, 171, 164)" opacity="0.45"/>
<rect x="160" y="278" width="5" height="6" fill="rgb(167, 161, 154)" opacity="0.45"/>
<rect x="160" y="273" width="5" height="9" fill="rgb(173, 167, 160)" opacity="0.45"/>
<rect x="160" y="276" width="5" height="7" fill="rgb(204, 198, 191)" opacity="0.45"/>
<rect x="160" y="271" width="5" height="10" fill="rgb(206, 200, 193)" opacity="0.45"/>
<rect x="160" y="268" width="5" height="1" fill="#b3aba1" opacity="0.6"/>
<rect x="165" y="268" width="85" height="31" fill="rgb(199, 193, 186)"/>
<rect x="202" y="276" width="36" height="12" fill="rgb(180, 174, 167)" opacity="0.45"/>
<rect x="188" y="276" width="49" height="15" fill="rgb(185, 179, 172)" opacity="0.45"/>
<rect x="177" y="270" width="45" height="12" fill="rgb(208, 202, 195)" opacity="0.45"/>
<rect x="206" y="275" width="21" height="16" fill="rgb(189, 183, 176)" opacity="0.45"/>
<rect x="192" y="274" width="39" height="13" fill="rgb(210, 204, 197)" opacity="0.45"/>
<rect x="165" y="268" width="85" height="1" fill="#b3aba1" opacity="0.6"/>
<rect x="160" y="299" width="3" height="19" fill="rgb(195, 189, 182)"/>
<rect x="160" y="307" width="3" height="6" fill="rgb(210, 204, 197)" opacity="0.45"/>
<rect x="160" y="308" width="3" height="6" fill="rgb(182, 176, 169)" opacity="0.45"/>
<rect x="160" y="303" width="3" height="12" fill="rgb(174, 168, 161)" opacity="0.45"/>
<rect x="160" y="304" width="3" height="13" fill="rgb(211, 205, 198)" opacity="0.45"/>
<rect x="160" y="305" width="3" height="10" fill="rgb(182, 176, 169)" opacity="0.45"/>
<rect x="160" y="299" width="3" height="1" fill="#b3aba1" opacity="0.6"/>
<rect x="163" y="299" width="87" height="19" fill="rgb(202, 196, 189)"/>
<rect x="196" y="305" width="45" height="10" fill="rgb(177, 171, 164)" opacity="0.45"/>
<rect x="184" y="308" width="49" height="10" fill="rgb(183, 177, 170)" opacity="0.45"/>
<rect x="206" y="301" width="38" height="10" fill="rgb(192, 186, 179)" opacity="0.45"/>
<rect x="192" y="301" width="50" height="12" fill="rgb(177, 171, 164)" opacity="0.45"/>
<rect x="201" y="308" width="42" height="10" fill="rgb(217, 211, 204)" opacity="0.45"/>
<rect x="163" y="299" width="87" height="1" fill="#b3aba1" opacity="0.6"/>
</g>

<!-- fridge -->
<rect x="288" y="12" width="107" height="88" fill="#dadada" filter="url(#noise)"/>
<rect x="288" y="104" width="33" height="96" fill="#b6b6b6"/>
<rect x="320" y="104" width="86" height="92" fill="url(#carpg)" filter="url(#noise)"/>
<polygon points="288,100 397,100 400,108 294,110" fill="#d3d3d3"/>
<rect x="395" y="12" width="11" height="120" fill="#8c8c8c"/>
<polygon points="296,109 396,107 406,128 406,134 320,134" fill="#1e1e1e"/>
<!-- dinette -->
<rect x="416" y="20" width="219" height="12" fill="#6e6e6e"/>
<rect x="416" y="20" width="219" height="3" fill="#8a8a8a"/>
<polygon points="420,32 633,32 625,44 428,44" fill="#2f2c29"/>
<rect x="406" y="40" width="10" height="150" fill="#efefef"/>
<rect x="649" y="40" width="7" height="150" fill="#ededed"/>
<polygon points="656,42 672,14 672,190 656,190" fill="#c9c9c9"/>
<g>
<rect x="416" y="44" width="64" height="146" fill="#c39d67"/>
<rect x="416" y="44" width="15" height="146" fill="#c7a16b"/>
<rect x="431" y="44" width="4" height="146" fill="#9f7d52"/>
<rect x="435" y="48" width="29" height="142" fill="#c09a63"/>
<rect x="464" y="44" width="2" height="146" fill="#a38057"/>
<rect x="466" y="44" width="14" height="146" fill="#c6a06a"/>
<rect x="585" y="44" width="64" height="146" fill="#c39d67"/>
<rect x="585" y="44" width="14" height="146" fill="#c6a06a"/>
<rect x="599" y="44" width="2" height="146" fill="#a38057"/>
<rect x="601" y="48" width="29" height="142" fill="#c09a63"/>
<rect x="630" y="44" width="4" height="146" fill="#9f7d52"/>
<rect x="634" y="44" width="15" height="146" fill="#c7a16b"/>
<rect x="416" y="44" width="233" height="146" fill="url(#benchg)"/>
<rect x="480" y="44" width="105" height="145" fill="url(#tableg)" filter="url(#grain)"/>
</g>
<rect x="406" y="189" width="266" height="11" fill="#7c7c7c"/>
<rect x="423" y="191" width="57" height="5" fill="#9c9c9c"/>
<rect x="578" y="191" width="62" height="5" fill="#9c9c9c"/>
<rect x="296" y="196" width="364" height="4" fill="#5e5e5e"/>
<!-- ===== left rooms ===== -->
<rect x="9" y="149" width="92" height="170" fill="#ededed"/>
<rect x="16" y="155" width="80" height="120" rx="6" fill="url(#showg)"/>
<rect x="9" y="280" width="92" height="39" fill="#e6e6e6"/>
<rect x="9" y="279" width="92" height="2" fill="#cfcfcf"/>
<rect x="101" y="149" width="149" height="29" fill="#8f8f8f"/>
<rect x="101" y="161" width="59" height="116" fill="#f3f3f3"/>
<rect x="104" y="161" width="55" height="72" fill="#c9c9c9"/>
<g fill="#8e8e8e">
<rect x="104" y="166" width="55" height="2.5"/><rect x="104" y="175" width="55" height="2.5"/>
<rect x="104" y="184" width="55" height="2.5"/><rect x="104" y="193" width="55" height="2.5"/>
<rect x="104" y="202" width="55" height="2.5"/><rect x="104" y="211" width="55" height="2.5"/>
<rect x="104" y="220" width="55" height="2.5"/><rect x="104" y="229" width="55" height="2.5"/>
</g>
<rect x="99.5" y="161" width="3.5" height="107" fill="#1e1e1e"/>
<circle cx="127.4" cy="253" r="4.5" fill="none" stroke="#8a8a8a" stroke-width="2.2"/>
<rect x="101" y="277" width="59" height="42" fill="#a5a5a5"/>
<rect x="106" y="284" width="40" height="30" fill="#8f8f8f"/>
<rect x="108" y="286" width="36" height="26" fill="#9c9c9c"/>
<polygon points="204,170 212,161 249,161 249,240 238,240 204,205" fill="#c4c4c4"/>
<polygon points="214,172 220,166 246,168 246,232 238,232 214,200" fill="#ececec"/>
<ellipse cx="203" cy="286" rx="22" ry="31" fill="#d2d2d2" stroke="#9c9c9c" stroke-width="1.5"/>
<ellipse cx="203" cy="282" rx="16" ry="22" fill="#dedede"/>
<rect x="249.5" y="149" width="8.5" height="100" fill="#7a7a7a"/>
<polygon points="249.5,249 258,249 214,325 205,325" fill="#8e8e8e"/>
<polygon points="255,250 259,250 217,323 212,323" fill="#222"/>
<polygon points="258,149 296,149 296,258 258,249" fill="#b2b2b2"/>
<rect x="288" y="104" width="8" height="60" fill="#b4b4b4"/>
<polygon points="258,246.5 294,256 294,260.5 258,251" fill="#222"/>
<polygon points="266,154 286,154 321,176 321,182 300,182" fill="#1e1e1e"/>
<polygon points="213,321 252,322 306,281 273,273" fill="#1e1e1e"/>
<rect x="1" y="319" width="210" height="8" fill="#676767"/>

<!-- bunk -->
<rect x="9" y="327" width="30" height="153" fill="url(#stripg)"/>
<polygon points="39,327 205,327 268,394 268,480 39,480" fill="#84807c" filter="url(#noise)"/>
<polygon points="200,323 214,323 284,394 270,394" fill="#c4c4c4"/>
<polygon points="204,323 209,323 280,394 275,394" fill="#e8e8e8"/>
<rect x="9" y="480" width="307" height="10" fill="#c9c7c4"/>
<polygon points="129,487.5 139,477.5 246,477.5 238,487.5" fill="#2c2c2c"/>
<rect x="141" y="480.5" width="96" height="4.5" fill="#6e6e6e"/>

<!-- kitchen -->
<rect x="268" y="385" width="84" height="51" fill="#a9a9a9"/>
<polygon points="266,385 316,385 320,396 268,396" fill="#cdcdcd"/>
<rect x="335" y="396" width="17" height="40" fill="#e9e9e9"/>
<rect x="334" y="397" width="226" height="66" fill="#ececec"/>
<rect x="268" y="396" width="48" height="94" fill="url(#pantg)"/>
<rect x="352" y="384" width="69" height="74" fill="#2a2a2a"/>
<g fill="#555"><circle cx="362" cy="388" r="2.5"/><circle cx="374" cy="388" r="2.5"/><circle cx="386" cy="388" r="2.5"/><circle cx="398" cy="388" r="2.5"/><circle cx="410" cy="388" r="2.5"/></g>
<rect x="356" y="394" width="61" height="60" fill="#3e3e3e"/>
<polygon points="370,410 417,402 417,420 376,420" fill="#5a5a5a"/>
<rect x="316" y="463" width="244" height="27" fill="#d3ccc4"/>
<rect x="337" y="427" width="62" height="10" fill="#b4b4b4"/>
<rect x="317" y="435" width="90" height="45" fill="#989390"/>
<path d="M442,307 H554 Q560,307 560,313 V463 H442 Z" fill="#f1f1f1"/>
<path d="M470,395 Q500,420 520,440 M530,380 Q545,420 558,440 M445,420 Q470,440 500,455" stroke="#d4d4d4" stroke-width="1.2" fill="none"/>
<rect x="454" y="316" width="54" height="78" fill="#d6d6d6"/>
<g fill="#8a8a8a">
<rect x="456" y="320" width="50" height="2"/><rect x="456" y="326" width="50" height="2"/><rect x="456" y="332" width="50" height="2"/>
<rect x="456" y="338" width="50" height="2"/><rect x="456" y="344" width="50" height="2"/><rect x="456" y="350" width="50" height="2"/>
<rect x="456" y="356" width="50" height="2"/><rect x="456" y="362" width="50" height="2"/><rect x="456" y="368" width="50" height="2"/>
<rect x="456" y="374" width="50" height="2"/><rect x="456" y="380" width="50" height="2"/><rect x="456" y="386" width="50" height="2"/>
</g>
<circle cx="486" cy="355" r="3" fill="#333"/>
<path d="M497,346 L506,356" stroke="#777" stroke-width="2.5"/>
<rect x="432" y="458" width="100" height="5.5" fill="#2f4c9c" stroke="#111" stroke-width="1"/>
<rect x="560" y="334" width="30" height="52" fill="#1f1f1f"/>
<path d="M582,338 Q592,360 582,382" stroke="#aaa" stroke-width="1.5" fill="none"/>
<rect x="560" y="402" width="30" height="53" fill="#1f1f1f"/>
<path d="M582,406 Q592,428 582,450" stroke="#aaa" stroke-width="1.5" fill="none"/>
<!-- right area -->
<rect x="672" y="148" width="170" height="63" fill="#858381"/>
<rect x="672" y="198" width="170" height="13" fill="#8a847d"/>
<rect x="672" y="148" width="170" height="6" fill="#7a7a7a"/>
<rect x="696" y="154" width="66" height="7" fill="#585858"/>
<rect x="696" y="161" width="66" height="6" fill="#3a3a3a"/>
<polygon points="656,169 672,154 695,154 695,178 666,182 656,182" fill="#1e1e1e"/>
<rect x="672" y="12" width="9" height="136" fill="#6c6c6c"/>
<rect x="560" y="464" width="321" height="26" fill="#959595"/>
<rect x="771" y="432" width="72" height="33" fill="#cbbdae"/>
<rect x="771" y="465" width="72" height="25" fill="#b4b1ad"/>
<!-- entry door -->
<polygon points="580,457 669,457 690,483 595,483" fill="#262626"/>
<polygon points="590,467 658,467 676,481 597,481" fill="#9a9a9a"/>
<g fill="#ececec"><rect x="592" y="469" width="60" height="2.5"/><rect x="593" y="473" width="56" height="2.5"/><rect x="594" y="477" width="50" height="2.5"/></g>
<polygon points="630,481 655,467 666,467 680,481" fill="#808080"/>
<rect x="590" y="459" width="78" height="7" fill="#4a4a4a"/>
<rect x="689" y="470.5" width="67" height="7" rx="3" fill="#3a3a3a"/>
<rect x="693" y="472.5" width="59" height="3" fill="#8a8a8a"/>
<!-- bed -->
<path d="M682,211.5 H850 V431.5 H682 Q673,431.5 673,422.5 V220.5 Q673,211.5 682,211.5 Z" fill="#77736f"/>
<path d="M686,213 H850 V430 H686 Q679,430 679,423 V220 Q679,213 686,213 Z" fill="#8e8b88"/>
<g fill="#95928f"><rect x="682" y="219" width="164" height="1.5"/><rect x="682" y="227" width="164" height="1.5"/><rect x="682" y="235" width="164" height="1.5"/><rect x="682" y="243" width="164" height="1.5"/><rect x="682" y="251" width="164" height="1.5"/><rect x="682" y="259" width="164" height="1.5"/><rect x="682" y="267" width="164" height="1.5"/><rect x="682" y="275" width="164" height="1.5"/><rect x="682" y="283" width="164" height="1.5"/><rect x="682" y="291" width="164" height="1.5"/><rect x="682" y="299" width="164" height="1.5"/><rect x="682" y="307" width="164" height="1.5"/><rect x="682" y="315" width="164" height="1.5"/><rect x="682" y="323" width="164" height="1.5"/><rect x="682" y="331" width="164" height="1.5"/><rect x="682" y="339" width="164" height="1.5"/><rect x="682" y="347" width="164" height="1.5"/><rect x="682" y="355" width="164" height="1.5"/><rect x="682" y="363" width="164" height="1.5"/><rect x="682" y="371" width="164" height="1.5"/><rect x="682" y="379" width="164" height="1.5"/><rect x="682" y="387" width="164" height="1.5"/><rect x="682" y="395" width="164" height="1.5"/><rect x="682" y="403" width="164" height="1.5"/><rect x="682" y="411" width="164" height="1.5"/><rect x="682" y="419" width="164" height="1.5"/><rect x="682" y="427" width="164" height="1.5"/></g>
<!-- headboard / nightstands -->
<rect x="842" y="148" width="39" height="64" fill="#cdbfb0"/>
<rect x="848" y="160" width="20" height="40" fill="#c2b3a2" stroke="#ad9e8c" stroke-width="1"/>
<rect x="843" y="432" width="38" height="58" fill="#cdbfb0"/>
<rect x="849" y="444" width="20" height="36" fill="#c2b3a2" stroke="#ad9e8c" stroke-width="1"/>
<rect x="849" y="212" width="32" height="220" fill="#cfc1b2"/>
<rect x="849" y="212" width="13" height="220" fill="#b4b5b9"/>
<rect x="865" y="214" width="2.5" height="214" fill="#333"/>
<rect x="874" y="148" width="7" height="342" fill="#e2d6c6"/>

<!-- front cap -->
<path d="M881,140 Q950,140 1000,150 Q1013,153 1013,162 L1013,200 Q1024,213 1024,245 L1024,400 Q1024,420 1013,433 L1013,480 Q1000,490 940,495 L881,498 Z" fill="url(#capg)"/>
<path d="M905,150 Q1000,160 1013,205 Q1024,225 1024,250 L1024,398 Q1010,460 930,476 L905,478 Z" fill="#f9f9f9"/>
<path d="M1013,433 Q990,468 930,477" fill="none" stroke="#d0d0d0" stroke-width="1.5"/>
<path d="M930,190 Q1000,190 1013,205" fill="none" stroke="#e0e0e0" stroke-width="1.5"/>
<path d="M881,140 Q960,141 1003,151 Q1013,154 1013,160" fill="none" stroke="url(#capline)" stroke-width="3"/>
<path d="M881,497 Q960,495 1003,488 Q1013,485 1013,480" fill="none" stroke="url(#capline)" stroke-width="3"/>
<rect x="881" y="140" width="5" height="358" fill="#e8e8e8"/>

<!-- hitch -->
<path d="M1025,271 H1035 Q1043.5,271 1043.5,280 V366 Q1043.5,375.5 1035,375.5 H1025 Z" fill="#3d3b3e"/>
<rect x="1028" y="276" width="3" height="94" fill="#4c4a4d"/>
<rect x="1043" y="284" width="7" height="75" fill="#38363a"/>
<polygon points="1049,294 1088,313.5 1088,331 1049,351 1049,344 1080,327 1080,318 1049,301" fill="#3d3b3e"/>
<rect x="1049" y="316" width="23" height="12" fill="#3d3b3e"/>
<path d="M1080,313 H1108 Q1116.5,313 1116.5,322 Q1116.5,331 1108,331 H1080 Z" fill="#3d3b3e"/>
<rect x="1084" y="311" width="10" height="22" rx="3" fill="#38363a"/>

<!-- awning -->
<path d="M18,500.5 H573 L563,516.5 H18 Z" fill="#1c1c1c"/>
<rect x="18" y="502.5" width="552" height="1.5" fill="#5a5a5a"/>
<rect x="18" y="506.5" width="549" height="1.5" fill="#5a5a5a"/>
<path d="M20,499.5 H30 V518 H20 Q10,518 10,509 Q10,499.5 20,499.5 Z" fill="#151515"/>
<path d="M698,500.5 H822 V516.5 H687 Z" fill="#1c1c1c"/>
<rect x="700" y="502.5" width="122" height="1.5" fill="#5a5a5a"/>
<rect x="697" y="506.5" width="125" height="1.5" fill="#5a5a5a"/>
<path d="M821,500 H832 Q840.5,500 840.5,509 Q840.5,518 832,518 H821 Z" fill="#151515"/>
<!-- storage brackets -->
<path d="M113,516 V526.5 Q113,534.5 121,534.5 H222 Q230,534.5 230,526.5 V516" fill="#fff" stroke="#111" stroke-width="3.5"/>
<circle cx="128" cy="530" r="2" fill="#111"/><circle cx="211" cy="530" r="2" fill="#111"/>
<path d="M770.5,500 V526.5 Q770.5,534.5 778.5,534.5 H877.8 Q885.8,534.5 885.8,526.5 V500" fill="#fff" stroke="#111" stroke-width="3.5"/>
<circle cx="784" cy="529.5" r="2.3" fill="#111"/><circle cx="868.2" cy="529.5" r="2.3" fill="#111"/>
<path d="M771.5,140 V125.5 Q771.5,117.5 779.5,117.5 H879.8 Q887.8,117.5 887.8,125.5 V140" fill="#fff" stroke="#111" stroke-width="3.5"/>
<circle cx="789.3" cy="122.5" r="2.3" fill="#111"/><circle cx="872.9" cy="122.5" r="2.3" fill="#111"/>

<!-- entry steps -->
<rect x="588" y="499" width="64" height="52" fill="#d0d0d0"/>
<g fill="#3a3a3a"><rect x="588" y="507" width="64" height="3"/><rect x="588" y="520" width="64" height="3"/><rect x="588" y="533" width="64" height="3"/><rect x="588" y="546" width="64" height="3"/></g>
<g fill="#8a8a8a"><rect x="588" y="503" width="64" height="2"/><rect x="588" y="516" width="64" height="2"/><rect x="588" y="529" width="64" height="2"/><rect x="588" y="542" width="64" height="2"/></g>
<rect x="584" y="499" width="4.5" height="53" fill="#222"/><rect x="652" y="499" width="5" height="53" fill="#222"/>
<polygon points="599,519 650,499 678,499 613,549" fill="#8c8c8c"/>
<polygon points="599,519 613,549 616,548 602,518" fill="#444"/>
<polygon points="616,524 650,503 668,503 624,535" fill="#1c1c1c"/>
<!-- ===== labels ===== -->
<g class="w" filter="url(#sh)">
<text x="477.7" y="110" font-size="26" textLength="113" lengthAdjust="spacingAndGlyphs">44″ × 74″</text>
<text x="479" y="140" font-size="26.9" textLength="105.6" lengthAdjust="spacingAndGlyphs">DINETTE</text>
<text x="689.6" y="194.7" font-size="27" textLength="143.3" lengthAdjust="spacingAndGlyphs">WARDROBE</text>
<text x="707.9" y="316.3" font-size="27" textLength="112.8" lengthAdjust="spacingAndGlyphs">60″ × 74″</text>
<text x="692.3" y="345" font-size="26.5" textLength="140.1" lengthAdjust="spacingAndGlyphs">QUEEN BED</text>
<text x="688" y="466" font-size="26.5" textLength="143.7" lengthAdjust="spacingAndGlyphs">WARDROBE</text>
<text x="104.6" y="383.2" font-size="26" textLength="115" lengthAdjust="spacingAndGlyphs">45″ × 68″</text>
<text x="75.4" y="413.2" font-size="27" textLength="170.2" lengthAdjust="spacingAndGlyphs">CONVERTIBLE</text>
<text x="119.2" y="441.6" font-size="26" textLength="81.8" lengthAdjust="spacingAndGlyphs">BUNKS</text>
<text x="321" y="468" font-size="27.5" textLength="78" lengthAdjust="spacingAndGlyphs">MICRO</text>
</g>
<g class="k">
<text x="297.3" y="89.1" font-size="25.9" textLength="89" lengthAdjust="spacingAndGlyphs">FRIDGE</text>
<text x="467" y="448.2" font-size="27.3" textLength="30.8" lengthAdjust="spacingAndGlyphs">TV</text>
<text x="19.9" y="309.3" font-size="24.7" textLength="72.3" lengthAdjust="spacingAndGlyphs">LINEN</text>
<text transform="translate(49.7,266.8) rotate(-90)" font-size="24.7" textLength="110.5" lengthAdjust="spacingAndGlyphs">24″ × 36″</text>
<text transform="translate(79.4,266.8) rotate(-90)" font-size="26.7" textLength="106.2" lengthAdjust="spacingAndGlyphs">SHOWER</text>
<text transform="translate(301,482.7) rotate(-90)" font-size="27.6" textLength="94.7" lengthAdjust="spacingAndGlyphs">PANTRY</text>
<text transform="translate(886.3,293.2) rotate(90)" font-size="24.5" textLength="51.8" lengthAdjust="spacingAndGlyphs">OHC</text>
<text transform="translate(957.5,442.8) rotate(-90) skewX(-3)" font-size="32.5" textLength="236" lengthAdjust="spacingAndGlyphs" style="stroke-width:1.3">FOREST RIVER</text>
<text transform="translate(1007.4,378) rotate(-90)" font-size="18.3" textLength="107.5" lengthAdjust="spacingAndGlyphs" style="fill:#3a6ea8;stroke:none">PUMA</text>
<text transform="translate(1012,336) rotate(-90)" font-size="4.5" textLength="36" lengthAdjust="spacingAndGlyphs" style="fill:#555;stroke:none">TRACKS</text>
<text x="760.4" y="67.2" font-size="26" textLength="133" lengthAdjust="spacingAndGlyphs">PASS THRU</text>
<text x="769.5" y="96" font-size="25.9" textLength="114.3" lengthAdjust="spacingAndGlyphs">STORAGE</text>
<text x="107" y="575" font-size="25.3" textLength="122" lengthAdjust="spacingAndGlyphs">EXTERIOR</text>
<text x="111" y="605" font-size="25.3" textLength="114" lengthAdjust="spacingAndGlyphs">STORAGE</text>
<text x="337.6" y="555.4" font-size="25.9" textLength="140" lengthAdjust="spacingAndGlyphs">17′ AWNING</text>
<text x="497" y="591.2" font-size="25.9" textLength="237.8" lengthAdjust="spacingAndGlyphs">SOLID STEP<tspan font-size="15" dy="-8">®</tspan><tspan dy="8"> ENTRY</tspan></text>
<text x="761" y="575" font-size="25.9" textLength="131.4" lengthAdjust="spacingAndGlyphs">PASS THRU</text>
<text x="769.5" y="605" font-size="25.9" textLength="114.3" lengthAdjust="spacingAndGlyphs">STORAGE</text>
</g>
</svg>
</body></html>
